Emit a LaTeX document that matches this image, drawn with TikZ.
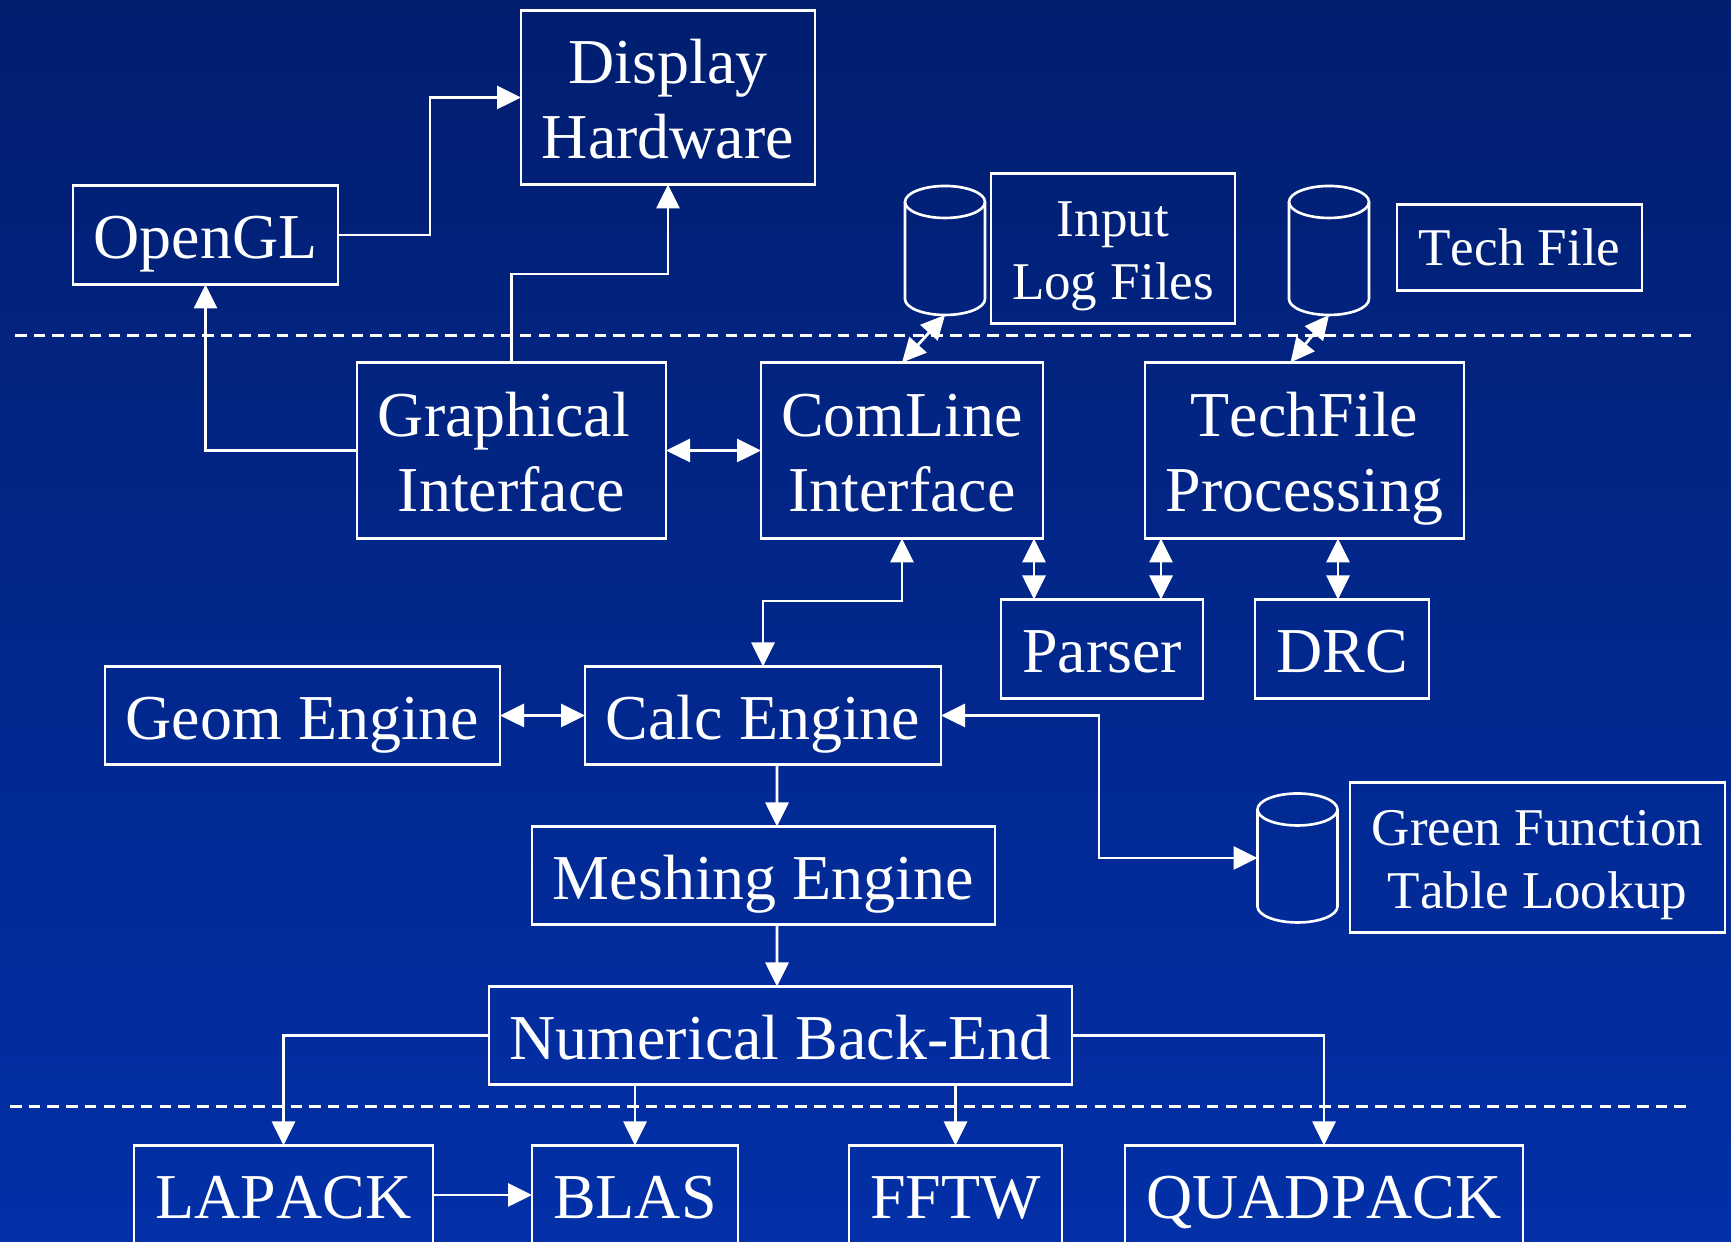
\documentclass[tikz,border=0pt]{standalone}
\usepackage{fontspec}
\setmainfont[Kerning=Off]{Liberation Serif}
\usetikzlibrary{arrows.meta}
\definecolor{bgtop}{HTML}{011E6F}
\definecolor{bgbottom}{HTML}{0330A8}
\tikzset{
    box/.style={draw=white, line width=0.75pt, rectangle, inner sep=0pt, outer sep=0pt, align=center, text=white, font=\fontsize{18.2}{21.6}\selectfont, text height=0.48cm, text depth=0pt},
    twolines/.style={box, text height=1.23cm},
    smallbox/.style={box, font=\fontsize{15.1}{18.2}\selectfont, text height=0.37cm},
    smalltwo/.style={smallbox, text height=1.03cm},
    store/.style={rectangle, minimum width=0.8cm, minimum height=1.29cm, inner sep=0pt, outer sep=0pt},
    storeline/.style={draw=white, line width=0.75pt},
    link/.style={draw=white, line width=0.8pt},
    layerline/.style={draw=white, line width=0.85pt, dash pattern=on 0.115cm off 0.072cm}
}
\newcommand{\drumoutline}[1]{
    \draw[storeline] ([yshift=-0.16cm]#1.north) ellipse [x radius=0.4cm, y radius=0.16cm];
    \draw[storeline] ([yshift=-0.16cm]#1.north west) -- ([yshift=0.16cm]#1.south west) arc[start angle=180, end angle=360, x radius=0.4cm, y radius=0.16cm] -- ([yshift=-0.16cm]#1.north east);
}
\begin{document}
\begin{tikzpicture}[>={Triangle[length=2.4mm,width=2.3mm]}]
        \useasboundingbox[top color=bgtop, bottom color=bgbottom, draw=none] (0,0.005) rectangle (17.31,12.425);

        \node[twolines, minimum width=2.94cm, minimum height=1.74cm] (display) at (6.68,11.45) {Display\\Hardware};
        \node[box, minimum width=2.65cm, minimum height=0.99cm] (opengl) at (2.055,10.075) {OpenGL};
        \node[twolines, minimum width=3.09cm, minimum height=1.76cm] (graphical) at (5.115,7.92) {Graphical\hspace*{0.15cm}\\Interface};
        \node[twolines, minimum width=2.82cm, minimum height=1.76cm] (comline) at (9.02,7.92) {ComLine\\Interface};
        \node[twolines, minimum width=3.19cm, minimum height=1.76cm] (techproc) at (13.045,7.92) {TechFile\\Processing};
        \node[box, minimum width=2.02cm, minimum height=0.99cm] (parser) at (11.02,5.935) {Parser};
        \node[box, minimum width=1.74cm, minimum height=0.99cm] (drc) at (13.42,5.935) {DRC};
        \node[box, minimum width=3.95cm, minimum height=0.98cm] (geom) at (3.025,5.27) {Geom Engine};
        \node[box, minimum width=3.56cm, minimum height=0.98cm] (calc) at (7.63,5.27) {Calc Engine};
        \node[box, minimum width=4.63cm, minimum height=0.98cm] (mesh) at (7.635,3.67) {Meshing Engine};
        \node[box, minimum width=5.83cm, minimum height=0.98cm] (numeric) at (7.805,2.07) {Numerical Back-End};
        \node[box, minimum width=2.99cm, minimum height=0.99cm] (lapack) at (2.835,0.475) {LAPACK};
        \node[box, minimum width=2.06cm, minimum height=0.99cm] (blas) at (6.35,0.475) {BLAS};
        \node[box, minimum width=2.13cm, minimum height=0.99cm] (fftw) at (9.555,0.475) {FFTW};
        \node[box, minimum width=3.98cm, minimum height=0.99cm] (quadpack) at (13.24,0.475) {QUADPACK};

        \node[smalltwo, minimum width=2.44cm, minimum height=1.50cm] (logfiles) at (11.13,9.94) {Input\\Log Files};
        \node[smallbox, minimum width=2.45cm, minimum height=0.86cm] (techfile) at (15.195,9.95) {Tech File};
        \node[smalltwo, minimum width=3.75cm, minimum height=1.50cm] (green) at (15.375,3.85) {Green Function\\Table Lookup};

        \node[store] (logstore) at (9.45,9.92) {};
        \node[store] (techstore) at (13.29,9.92) {};
        \node[store] (greenstore) at (12.975,3.845) {};
        \drumoutline{logstore}
        \drumoutline{techstore}
        \drumoutline{greenstore}

        \coordinate (upperleft) at (0.15,9.07);
        \coordinate (upperright) at (16.97,9.07);
        \coordinate (lowerleft) at (0.10,1.36);
        \coordinate (lowerright) at (16.92,1.36);
        \draw[layerline] (upperleft) -- (upperright);
        \draw[layerline] (lowerleft) -- (lowerright);

        \draw[link, ->] (opengl.east) -- ++(0.92,0) |- (display.west);
        \draw[link, ->] (graphical.north) -- ++(0,0.885) -| (display.south);
        \draw[link, ->] (graphical.west) -| (opengl.south);
        \draw[link, <->] (graphical.east) -- (comline.west);
        \draw[link, <->] (logstore.south) -- (comline.north);
        \draw[link, <->] (techstore.south) -- ([xshift=-0.14cm]techproc.north);
        \draw[link, <->] (comline.south) -- ++(0,-0.625) -| (calc.north);
        \draw[link, <->] ([xshift=-0.68cm]parser.north) -- ([xshift=-0.68cm]parser.north |- comline.south);
        \draw[link, <->] ([xshift=0.59cm]parser.north) -- ([xshift=0.59cm]parser.north |- techproc.south);
        \draw[link, <->] ([xshift=-0.04cm]drc.north) -- ([xshift=-0.04cm]drc.north |- techproc.south);
        \draw[link, <->] (geom.east) -- (calc.west);
        \draw[link, <->] (calc.east) -- ++(1.58,0) |- (greenstore.west);
        \draw[link, ->] ([xshift=0.14cm]calc.south) -- ([xshift=0.135cm]mesh.north);
        \draw[link, ->] ([xshift=0.135cm]mesh.south) -- ([xshift=-0.035cm]numeric.north);
        \draw[link, ->] (numeric.west) -| (lapack.north);
        \draw[link, ->] (numeric.east) -| (quadpack.north);
        \draw[link, ->] (blas.north |- numeric.south) -- (blas.north);
        \draw[link, ->] (fftw.north |- numeric.south) -- (fftw.north);
        \draw[link, ->] (lapack.east) -- (blas.west);
    \end{tikzpicture}
\end{document}
